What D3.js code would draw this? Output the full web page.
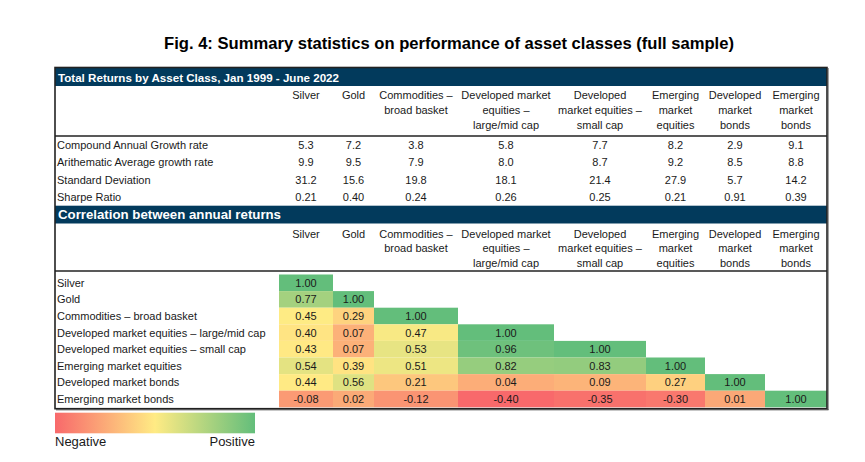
<!DOCTYPE html>
<html>
<head>
<meta charset="utf-8">
<script src="https://cdn.jsdelivr.net/npm/d3@7"></script>
<style>
  body { margin: 0; background: #fff; }
  svg { display: block; }
  text { font-family: "Liberation Sans", Arial, sans-serif; }
</style>
</head>
<body>
<svg id="chart" width="865" height="462"></svg>
<script>
// ---------- DATA ----------
const title = "Fig. 4: Summary statistics on performance of asset classes (full sample)";
const section1Title = "Total Returns by Asset Class, Jan 1999 - June 2022";
const section2Title = "Correlation between annual returns";

const assets = ["Silver", "Gold", "Commodities", "DM large/mid", "DM small", "EM equities", "DM bonds", "EM bonds"];
const columnHeaders = [
  ["Silver"],
  ["Gold"],
  ["Commodities \u2013", "broad basket"],
  ["Developed market", "equities \u2013", "large/mid cap"],
  ["Developed", "market equities \u2013", "small cap"],
  ["Emerging", "market", "equities"],
  ["Developed", "market", "bonds"],
  ["Emerging", "market", "bonds"]
];
const rowLabels = [
  "Silver",
  "Gold",
  "Commodities \u2013 broad basket",
  "Developed market equities \u2013 large/mid cap",
  "Developed market equities \u2013 small cap",
  "Emerging market equities",
  "Developed market bonds",
  "Emerging market bonds"
];

const statNames = ["Compound Annual Growth rate", "Arithematic Average growth rate", "Standard Deviation", "Sharpe Ratio"];
const statDecimals = [1, 1, 1, 2];
const cagr   = [5.3, 7.2, 3.8, 5.8, 7.7, 8.2, 2.9, 9.1];
const arith  = [9.9, 9.5, 7.9, 8.0, 8.7, 9.2, 8.5, 8.8];
const stdev  = [31.2, 15.6, 19.8, 18.1, 21.4, 27.9, 5.7, 14.2];
const sharpe = [0.21, 0.40, 0.24, 0.26, 0.25, 0.21, 0.91, 0.39];
const statValues = [cagr, arith, stdev, sharpe];

// lower-triangular correlation matrix
const correlations = [
  [1.00],
  [0.77, 1.00],
  [0.45, 0.29, 1.00],
  [0.40, 0.07, 0.47, 1.00],
  [0.43, 0.07, 0.53, 0.96, 1.00],
  [0.54, 0.39, 0.51, 0.82, 0.83, 1.00],
  [0.44, 0.56, 0.21, 0.04, 0.09, 0.27, 1.00],
  [-0.08, 0.02, -0.12, -0.40, -0.35, -0.30, 0.01, 1.00]
];
const legendLabels = ["Negative", "Positive"];

// ---------- LAYOUT ----------
const svg = d3.select("#chart");
const tableLeft = 55, tableRight = 827;
const labelRight = 279;
const colWidths = [54, 41, 84, 96, 92, 59, 60, 62];
const colLefts = colWidths.reduce((a, w, i) => { a.push(i === 0 ? labelRight : a[i - 1] + colWidths[i - 1]); return a; }, []);
const xLeft = d3.scaleOrdinal().domain(assets).range(colLefts);
const xWidth = d3.scaleOrdinal().domain(assets).range(colWidths);
const xCenter = a => xLeft(a) + xWidth(a) / 2;

const navy = "#023A5C";
const textColor = "#1a1a1a";
const bodyFont = 11;

// Title
svg.append("text")
  .attr("x", 449).attr("y", 49)
  .attr("text-anchor", "middle")
  .attr("font-size", 16.6).attr("font-weight", "bold")
  .attr("fill", "#000")
  .text(title);

// Section bars
function sectionBar(y0, y1, label, size, len) {
  svg.append("rect").attr("x", tableLeft).attr("y", y0)
    .attr("width", tableRight - tableLeft).attr("height", y1 - y0).attr("fill", navy);
  svg.append("text").attr("x", tableLeft + 3).attr("y", y1 - 4.5)
    .attr("font-family", "DejaVu Sans, sans-serif")
    .attr("font-weight", "bold").attr("font-size", size)
    .attr("fill", "#fff")
    .attr("textLength", len).attr("lengthAdjust", "spacingAndGlyphs")
    .text(label);
}
sectionBar(67.5, 86, section1Title, 10.5, 281);
sectionBar(205.7, 223.5, section2Title, 12.5, 223);

// Column headers
function headers(lineYs) {
  assets.forEach((a, i) => {
    columnHeaders[i].forEach((line, j) => {
      svg.append("text").attr("x", xCenter(a)).attr("y", lineYs[j])
        .attr("text-anchor", "middle").attr("font-size", bodyFont)
        .attr("fill", textColor).text(line);
    });
  });
}
headers([99, 114, 129]);
headers([237.5, 252, 266.5]);

// Stats rows
const yStat = d3.scaleBand().domain(statNames).range([136.5, 205.7]);
statNames.forEach((s, r) => {
  const cy = yStat(s) + yStat.bandwidth() / 2 + 4;
  svg.append("text").attr("x", tableLeft + 2).attr("y", cy)
    .attr("font-size", bodyFont).attr("fill", textColor).text(s);
  assets.forEach((a, c) => {
    svg.append("text").attr("x", xCenter(a)).attr("y", cy)
      .attr("text-anchor", "middle").attr("font-size", bodyFont)
      .attr("fill", textColor).text(statValues[r][c].toFixed(statDecimals[r]));
  });
});

// Correlation heatmap
const allCorr = correlations.flat();
const color = d3.scaleLinear()
  .domain([d3.min(allCorr), d3.median(allCorr), d3.max(allCorr)])
  .range(["#F8696B", "#FFEB84", "#63BE7B"])
  .interpolate(d3.interpolateRgb);

const yCorr = d3.scaleBand().domain(rowLabels).range([274.5, 407.3]);
const cells = [];
correlations.forEach((row, r) => row.forEach((v, c) => cells.push({ r, c, v })));

svg.append("g").selectAll("rect").data(cells).join("rect")
  .attr("x", d => xLeft(assets[d.c]))
  .attr("y", d => yCorr(rowLabels[d.r]))
  .attr("width", d => xWidth(assets[d.c]))
  .attr("height", yCorr.bandwidth())
  .attr("fill", d => color(d.v));

svg.append("g").selectAll("text").data(cells).join("text")
  .attr("x", d => xCenter(assets[d.c]))
  .attr("y", d => yCorr(rowLabels[d.r]) + yCorr.bandwidth() / 2 + 4)
  .attr("text-anchor", "middle").attr("font-size", bodyFont)
  .attr("fill", textColor)
  .text(d => d.v.toFixed(2));

rowLabels.forEach(l => {
  svg.append("text").attr("x", tableLeft + 2)
    .attr("y", yCorr(l) + yCorr.bandwidth() / 2 + 4)
    .attr("font-size", bodyFont).attr("fill", textColor).text(l);
});

// Borders
const border = "#222";
svg.append("rect").attr("x", tableLeft).attr("y", 67.5)
  .attr("width", tableRight - tableLeft).attr("height", 408.7 - 67.5)
  .attr("fill", "none").attr("stroke", border).attr("stroke-width", 1.6);
[136, 271].forEach(y => {
  svg.append("line").attr("x1", tableLeft).attr("x2", tableRight)
    .attr("y1", y).attr("y2", y).attr("stroke", border).attr("stroke-width", 1.4);
});
svg.append("line").attr("x1", tableRight + 1).attr("x2", tableRight + 1)
  .attr("y1", 68).attr("y2", 410).attr("stroke", "#444").attr("stroke-width", 1);
svg.append("line").attr("x1", tableLeft + 1).attr("x2", tableRight + 1.5)
  .attr("y1", 409.8).attr("y2", 409.8).attr("stroke", "#444").attr("stroke-width", 1);

// Legend
const legX = d3.scaleLinear().domain([d3.min(allCorr), d3.max(allCorr)]).range([55, 255]);
const defs = svg.append("defs");
const grad = defs.append("linearGradient").attr("id", "legGrad");
color.domain().forEach(v => {
  grad.append("stop")
    .attr("offset", ((legX(v) - 55) / 200 * 100) + "%")
    .attr("stop-color", color(v));
});
// Excel legend places yellow at the middle
grad.selectAll("stop").filter((d, i) => i === 1).attr("offset", "50%");
svg.append("rect").attr("x", legX.range()[0]).attr("y", 412.7)
  .attr("width", legX.range()[1] - legX.range()[0]).attr("height", 20.6)
  .attr("fill", "url(#legGrad)");
svg.append("text").attr("x", 55).attr("y", 446)
  .attr("font-size", 13).attr("fill", textColor).text(legendLabels[0]);
svg.append("text").attr("x", 255).attr("y", 446).attr("text-anchor", "end")
  .attr("font-size", 13).attr("fill", textColor).text(legendLabels[1]);
</script>
</body>
</html>
